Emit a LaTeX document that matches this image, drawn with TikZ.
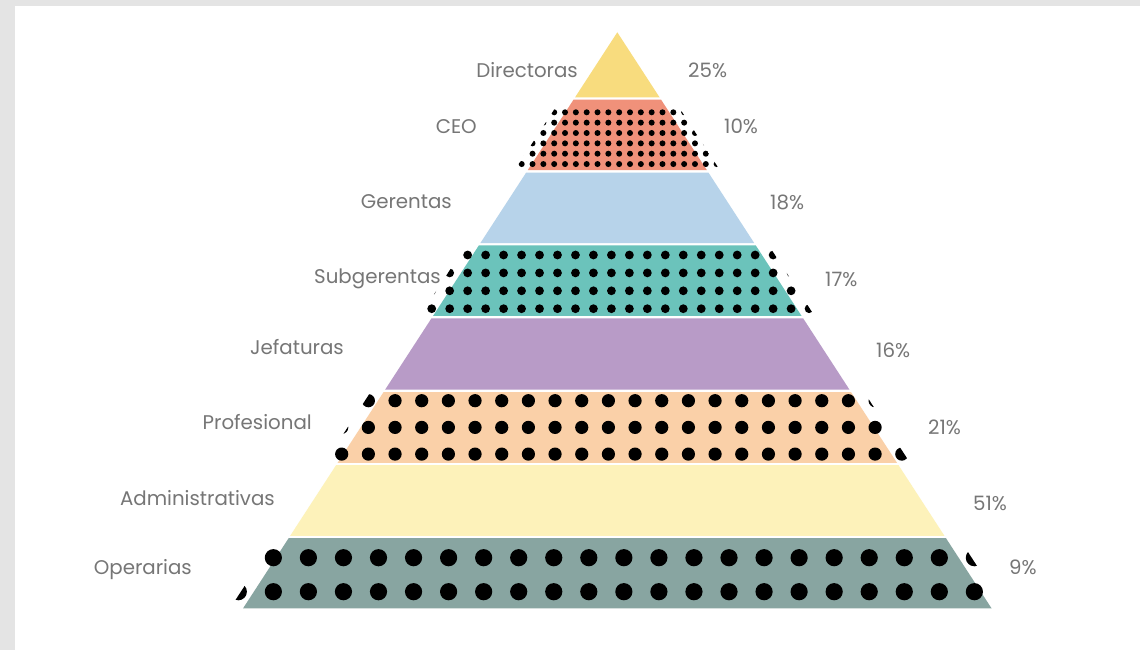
\documentclass[tikz,border=0pt]{standalone}
\usepackage{fontspec}
\setmainfont{Poppins}
\definecolor{bggray}{HTML}{E4E4E4}
\definecolor{cDir}{HTML}{F8DC7E}
\definecolor{cCeo}{HTML}{F0917A}
\definecolor{cGer}{HTML}{B7D3EA}
\definecolor{cSub}{HTML}{6BC3BB}
\definecolor{cJef}{HTML}{B89BC7}
\definecolor{cPro}{HTML}{FAD0A8}
\definecolor{cAdm}{HTML}{FDF2BA}
\definecolor{cOpe}{HTML}{88A5A1}
\definecolor{txtgray}{HTML}{767676}
\newcommand\pyrband[3]{\fill[#3] ({617.3-0.6497*(#1-32.3)},#1) -- ({617.3+0.6497*(#1-32.3)},#1) -- ({617.3+0.6497*(#2-32.3)},#2) -- ({617.3-0.6497*(#2-32.3)},#2) -- cycle;}
\newcommand\pyrdots[9]{%
  \begin{scope}
  \clip ({617.3-0.6497*(#1-32.3)-13},#1) -- ({617.3+0.6497*(#1-32.3)+13},#1) -- ({617.3+0.6497*(#2-32.3)+13},#2) -- ({617.3-0.6497*(#2-32.3)-13},#2) -- cycle;
  \foreach \rr in {0,...,#8}{\foreach \cc in {0,...,#5}{\fill[black] ({#3+#4*\cc},{#6+#7*\rr}) circle[radius=#9];}}
  \end{scope}}
\tikzset{
  namelbl/.style={anchor=base east, inner sep=0pt, text=txtgray, font=\fontsize{19.8}{23}\selectfont},
  pctlbl/.style={anchor=base west, inner sep=0pt, text=txtgray, font=\fontsize{19.8}{23}\selectfont}
}
\begin{document}
\begin{tikzpicture}[x=1pt,y=-1pt]
\useasboundingbox (0,0) rectangle (1140,650);
\fill[bggray] (0,0) rectangle (1140,650);
\fill[white] (15,6) rectangle (1140,650);
% bands
\pyrband{32.3}{97.3}{cDir}
\pyrband{99.7}{170.1}{cCeo}
\pyrband{172.5}{243}{cGer}
\pyrband{245.4}{315.9}{cSub}
\pyrband{318.3}{389.7}{cJef}
\pyrband{392.1}{462.8}{cPro}
\pyrband{465.2}{535.8}{cAdm}
\pyrband{538.2}{608.3}{cOpe}
% dot patterns
\pyrdots{99.7}{170.1}{521.7}{10.83}{19}{112.3}{10.35}{5}{3}
\pyrdots{245.4}{315.9}{431.7}{17.97}{21}{255}{17.9}{3}{4.4}
\pyrdots{392.1}{462.8}{341.7}{26.67}{21}{400.7}{26.7}{2}{6.6}
\pyrdots{538.2}{608.3}{238.3}{35.05}{21}{557.7}{34}{1}{8.6}
% labels
\node[namelbl] (lDir) at (578,78) {Directoras};
\node[pctlbl]  (pDir) at (688,78) {25\%};
\node[namelbl] (lCeo) at (477,133) {CEO};
\node[pctlbl]  (pCeo) at (724,133) {10\%};
\node[namelbl] (lGer) at (452,208) {Gerentas};
\node[pctlbl]  (pGer) at (770,209) {18\%};
\node[namelbl] (lSub) at (441,283) {Subgerentas};
\node[pctlbl]  (pSub) at (825,286) {17\%};
\node[namelbl] (lJef) at (344,354) {Jefaturas};
\node[pctlbl]  (pJef) at (876,357) {16\%};
\node[namelbl] (lPro) at (312,429) {Profesional};
\node[pctlbl]  (pPro) at (928,434) {21\%};
\node[namelbl] (lAdm) at (275,505) {Administrativas};
\node[pctlbl]  (pAdm) at (973,510) {51\%};
\node[namelbl] (lOpe) at (192,574) {Operarias};
\node[pctlbl]  (pOpe) at (1009,574) {9\%};
\end{tikzpicture}
\end{document}
